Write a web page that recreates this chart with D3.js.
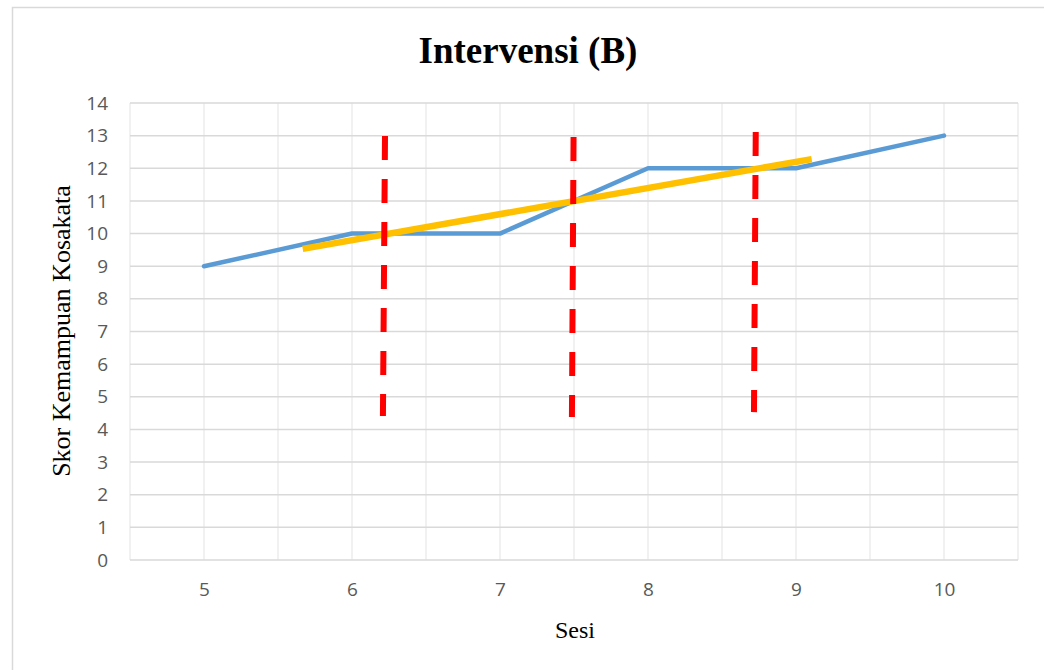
<!DOCTYPE html>
<html>
<head>
<meta charset="utf-8">
<script src="https://cdn.jsdelivr.net/npm/d3@7"></script>
<style>
  html, body { margin: 0; padding: 0; background: #fff; }
  svg { display: block; }
</style>
</head>
<body>
<svg id="chart" width="1044" height="670"></svg>
<script>
// ---- data ----
const sessions = [5, 6, 7, 8, 9, 10];
const scores = [9, 10, 10, 12, 12, 13];
const yTicks = [0, 1, 2, 3, 4, 5, 6, 7, 8, 9, 10, 11, 12, 13, 14];
const xGrid = [4.5, 5, 5.5, 6, 6.5, 7, 7.5, 8, 8.5, 9, 9.5, 10, 10.5];
// trend line endpoints (x, y) in data units
const trendX = [5.667, 9.106];
const trendY = [9.53, 12.28];
// red dashed marker lines: top and bottom ends in data units
const markerXTop = [6.223, 7.497, 8.728];
const markerXBottom = [6.209, 7.486, 8.716];
const markerYTop = [12.99, 12.96, 13.11];
const markerYBottom = [4.41, 4.38, 4.53];

const title = "Intervensi (B)";
const xTitle = "Sesi";
const yTitle = "Skor Kemampuan Kosakata";

// ---- layout ----
const svg = d3.select("#chart");
const plot = { left: 130, right: 1018, top: 103, bottom: 560 };

const x = d3.scaleLinear().domain([4.5, 10.5]).range([plot.left, plot.right]);
const y = d3.scaleLinear().domain([0, 14]).range([plot.bottom, plot.top]);

// outer chart border
svg.append("rect")
  .attr("x", 12.5).attr("y", 7.5)
  .attr("width", 1100).attr("height", 700)
  .attr("fill", "#fff").attr("stroke", "#d9d9d9").attr("stroke-width", 1.5);

// vertical gridlines
svg.append("g").selectAll("line").data(xGrid).join("line")
  .attr("x1", d => x(d)).attr("x2", d => x(d))
  .attr("y1", plot.top).attr("y2", plot.bottom)
  .attr("stroke", "#ededed").attr("stroke-width", 1.5);

// horizontal gridlines
svg.append("g").selectAll("line").data(yTicks).join("line")
  .attr("x1", plot.left).attr("x2", plot.right)
  .attr("y1", d => y(d)).attr("y2", d => y(d))
  .attr("stroke", "#d9d9d9").attr("stroke-width", 1.5);

// y axis tick labels
const yAxis = d3.axisLeft(y).tickValues(yTicks).tickSize(0).tickPadding(0).tickFormat(d3.format("d"));
const gy = svg.append("g").attr("transform", `translate(${plot.left - 22},0)`).call(yAxis);
gy.select(".domain").remove();
gy.selectAll("text")
  .attr("fill", "#595959")
  .style("font-family", "'Open Sans', 'Liberation Sans', sans-serif")
  .style("font-size", "19px");

// x axis tick labels
const xAxis = d3.axisBottom(x).tickValues(sessions).tickSize(0).tickPadding(0).tickFormat(d3.format("d"));
const gx = svg.append("g").attr("transform", `translate(0,${plot.bottom + 22})`).call(xAxis);
gx.select(".domain").remove();
gx.selectAll("text")
  .attr("fill", "#595959")
  .style("font-family", "'Open Sans', 'Liberation Sans', sans-serif")
  .style("font-size", "19px");

// data line
const line = d3.line().x(d => x(d[0])).y(d => y(d[1]));
svg.append("path")
  .datum(sessions.map((s, i) => [s, scores[i]]))
  .attr("d", line)
  .attr("fill", "none")
  .attr("stroke", "#5b9bd5")
  .attr("stroke-width", 4.5)
  .attr("stroke-linejoin", "round")
  .attr("stroke-linecap", "round");

// trend line
svg.append("path")
  .datum(trendX.map((t, i) => [t, trendY[i]]))
  .attr("d", line)
  .attr("fill", "none")
  .attr("stroke", "#ffc000")
  .attr("stroke-width", 6.5)
  .attr("stroke-linecap", "butt");

// red dashed marker lines
svg.append("g").selectAll("line").data(markerXTop).join("line")
  .attr("x1", (d, i) => x(d))
  .attr("y1", (d, i) => y(markerYTop[i]))
  .attr("x2", (d, i) => x(markerXBottom[i]))
  .attr("y2", (d, i) => y(markerYBottom[i]))
  .attr("stroke", "#ff0000")
  .attr("stroke-width", 6)
  .attr("stroke-dasharray", "24,19");

// title
svg.append("text")
  .attr("x", 528).attr("y", 63)
  .attr("text-anchor", "middle")
  .style("font-family", "'Liberation Serif', 'Times New Roman', serif")
  .style("font-weight", "bold")
  .style("font-size", "37px")
  .attr("fill", "#000")
  .text(title);

// x axis title
svg.append("text")
  .attr("x", 575).attr("y", 638)
  .attr("text-anchor", "middle")
  .style("font-family", "'Liberation Serif', 'Times New Roman', serif")
  .style("font-size", "24px")
  .attr("fill", "#000")
  .text(xTitle);

// y axis title
svg.append("text")
  .attr("transform", "translate(70,331) rotate(-90)")
  .attr("text-anchor", "middle")
  .style("font-family", "'Liberation Serif', 'Times New Roman', serif")
  .style("font-size", "26px")
  .attr("fill", "#000")
  .text(yTitle);
</script>
</body>
</html>
